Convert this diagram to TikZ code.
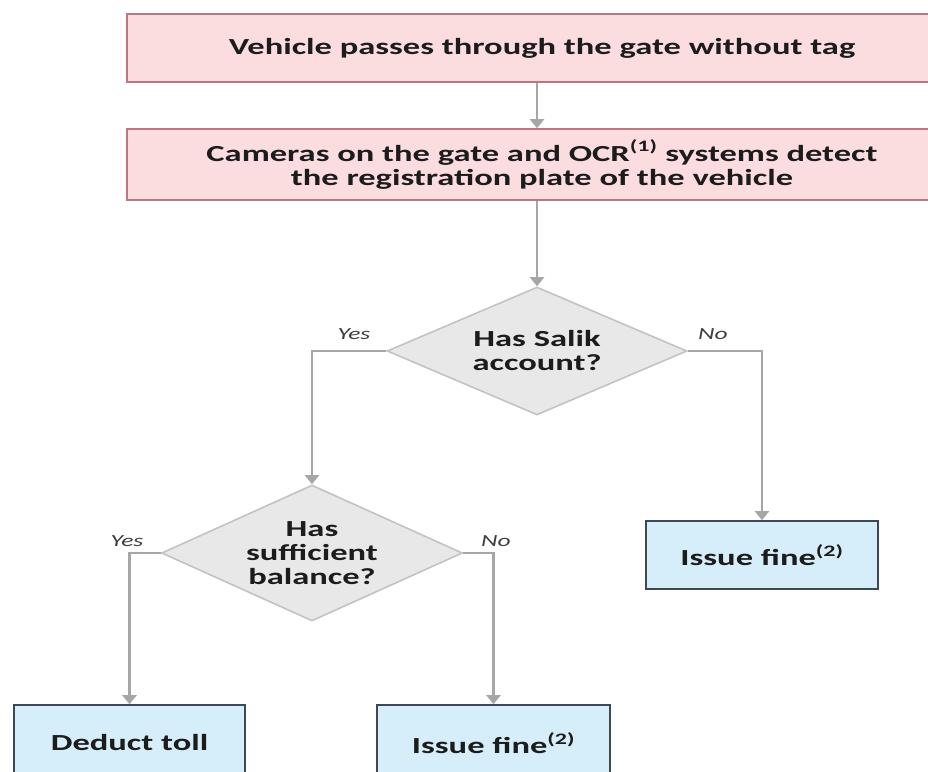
\documentclass[tikz,border=0pt]{standalone}
\usepackage{fontspec}
\setmainfont{Carlito}[FakeStretch=1.5]
\usetikzlibrary{shapes.geometric,arrows.meta}
\definecolor{pinkfill}{RGB}{251,221,224}
\definecolor{pinkline}{RGB}{185,120,130}
\definecolor{bluefill}{RGB}{214,238,250}
\definecolor{blueline}{RGB}{60,72,82}
\definecolor{dfill}{RGB}{232,232,232}
\definecolor{dline}{RGB}{195,195,195}
\definecolor{arrgray}{RGB}{166,166,166}
\definecolor{txt}{RGB}{28,28,28}
\tikzset{
  boxfont/.style={font=\bfseries\fontsize{23}{24}\selectfont, text=txt, align=center},
  pinkbox/.style={boxfont, draw=pinkline, fill=pinkfill, line width=1.6pt, inner sep=0pt},
  bluebox/.style={boxfont, draw=blueline, fill=bluefill, line width=1.6pt, inner sep=0pt},
  decision/.style={boxfont, shape=diamond, draw=dline, fill=dfill, line width=1.6pt, inner sep=0pt},
  arr/.style={draw=arrgray, line width=2.6pt, -{Triangle[width=14pt,length=9pt]}},
  lbl/.style={font=\itshape\fontsize{17}{17}\selectfont, text=txt!85}
}
\begin{document}
\begin{tikzpicture}[x=1pt,y=-1pt]
\useasboundingbox (0,0) rectangle (928,771);
\fill[white] (0,0) rectangle (928,771);
\clip (0,0) rectangle (928,771);
\node[pinkbox, minimum width=830pt, minimum height=68pt] (b1) at (542,48) {Vehicle passes through the gate without tag};
\node[pinkbox, minimum width=830pt, minimum height=71pt] (b2) at (542,164.5) {Cameras on the gate and OCR\textsuperscript{\fontsize{16}{16}\selectfont(1)} systems detect\\the registration plate of the vehicle};
\node[decision, minimum width=300pt, minimum height=128pt, aspect=2.34] (d1) at (537,351) {Has Salik\\account?};
\node[decision, minimum width=301pt, minimum height=136pt, aspect=2.2] (d2) at (312,553) {Has\\sufficient\\balance?};
\node[bluebox, minimum width=232pt, minimum height=68pt] (f1) at (762,555) {Issue fine\textsuperscript{\fontsize{16}{16}\selectfont(2)}};
\node[bluebox, minimum width=231pt, minimum height=76pt] (dt) at (129.5,743) {Deduct toll};
\node[bluebox, minimum width=233pt, minimum height=76pt] (f2) at (493.5,743) {Issue fine\textsuperscript{\fontsize{16}{16}\selectfont(2)}};
\draw[arr] (b1.south -| d1.north) -- (b2.north -| d1.north);
\draw[arr] (b2.south -| d1.north) -- (d1.north);
\draw[arr] (d1.west) -| (d2.north);
\draw[arr] (d1.east) -| (f1.north);
\draw[arr] (d2.west) -| (dt.north);
\draw[arr] (d2.east) -| (f2.north);
\node[lbl] (ly1) at (354,334) {Yes};
\node[lbl] (ln1) at (713,334) {No};
\node[lbl] (ly2) at (127,541) {Yes};
\node[lbl] (ln2) at (496,541) {No};
\end{tikzpicture}
\end{document}
